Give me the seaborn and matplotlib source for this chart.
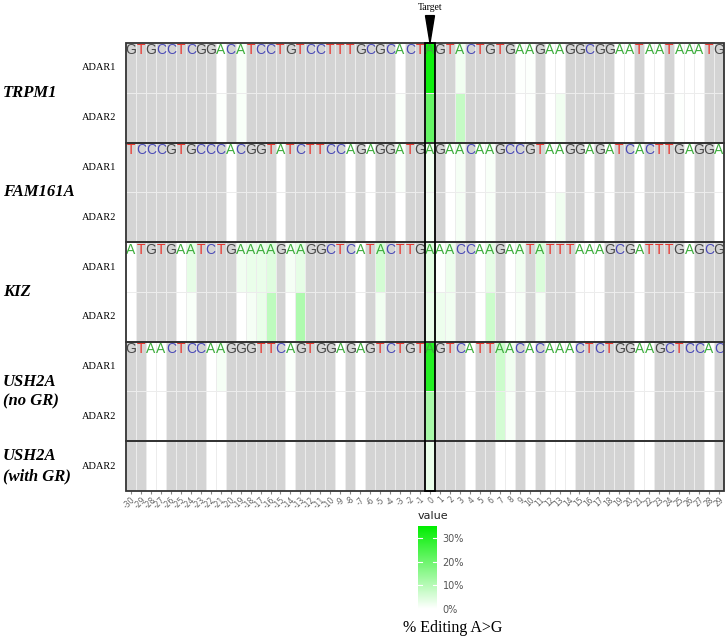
import numpy as np
import pandas as pd
import matplotlib
matplotlib.use("Agg")
import matplotlib.pyplot as plt
from matplotlib.colors import LinearSegmentedColormap, ListedColormap
from matplotlib.patches import Rectangle, Polygon
import seaborn as sns

# ---------------- data ----------------
positions = list(range(-30, 30))

seq_TRPM1 = "GTGCCTCGGACATCCTGTCCTTTGCGCACT" + "A" + "GTACTGTGAAGAAGGCGGAATAATAAATG"
seq_FAM161A = "TCCCGTGCCCACGGTATCTTCCAGAGGATG" + "A" + "GAACAAGCCGTAAGGAGATCACTTGAGGA"
seq_KIZ = "ATGTGAATCTGAAAAGAAGGCTCATACTTG" + "A" + "AACCAAGAATATTTAAAGCGATTTGAGCG"
seq_USH2A = "GTAACTCCAAGGGTTCAGTGGAGAGTCTGT" + "A" + "GTCATTAACACAAACTCTGGAAGCTCCAC"

# % editing at A sites (A sites not listed = 0)
trpm1_adar1 = {0: 33.0, 3: 2.0, -19: 1.0, 9: 0.3, 10: 0.5}
trpm1_adar2 = {0: 21.0, 3: 8.0, 13: 2.0, -21: 0.5, -19: 1.0, -3: 0.8, 10: 0.5, 25: 0.3}
fam_adar1 = {0: 2.0, 3: 1.5, 6: 1.0, -3: 0.8}
fam_adar2 = {0: 1.5, 3: 1.5, 6: 1.0, 13: 2.0}
kiz_adar1 = {-24: 3.5, -19: 2.0, -18: 3.0, -17: 3.0, -16: 4.5, -14: 1.5, -13: 3.5,
             -5: 6.0, 0: 4.0, 1: 0.5, 2: 2.5, 6: 3.5, 9: 2.0, 11: 5.0}
kiz_adar2 = {-24: 1.0, -18: 1.5, -17: 3.0, -16: 9.0, -13: 11.0, -5: 2.0, 0: 3.0,
             1: 2.5, 2: 2.0, 6: 7.0, 9: 1.0, 11: 1.5}
ush_adar1 = {0: 30.0, -21: 1.5, -14: 0.8, 7: 7.0, 8: 2.0}
ush_adar2 = {0: 12.0, 7: 6.0, 8: 1.0}
ushgr_adar2 = {0: 3.0}

row_labels = ["ADAR1", "ADAR2", "ADAR1", "ADAR2", "ADAR1", "ADAR2", "ADAR1", "ADAR2", "ADAR2"]
row_seqs = [seq_TRPM1, seq_TRPM1, seq_FAM161A, seq_FAM161A, seq_KIZ, seq_KIZ,
            seq_USH2A, seq_USH2A, seq_USH2A]
row_edits = [trpm1_adar1, trpm1_adar2, fam_adar1, fam_adar2, kiz_adar1, kiz_adar2,
             ush_adar1, ush_adar2, ushgr_adar2]

genes = ["TRPM1", "FAM161A", "KIZ", "USH2A\n(no GR)", "USH2A\n(with GR)"]
gene_rows = [(0, 2), (2, 4), (4, 6), (6, 8), (8, 9)]
gene_seqs = [seq_TRPM1, seq_FAM161A, seq_KIZ, seq_USH2A, None]

base_colors = {"A": "#3dae3d", "C": "#4a4ab8", "G": "#4a4a4a", "T": "#e8342c"}

# ---------------- build matrix ----------------
mat = np.full((len(row_labels), len(positions)), np.nan)
for r, (seq, ed) in enumerate(zip(row_seqs, row_edits)):
    for j, p in enumerate(positions):
        if seq[j] == "A":
            mat[r, j] = ed.get(p, 0.0)
df = pd.DataFrame(mat, index=range(len(row_labels)), columns=positions)

# ---------------- figure ----------------
serif = ["Liberation Serif", "DejaVu Serif"]
fig = plt.figure(figsize=(7.26, 6.39), dpi=100)
ax = fig.add_axes([126 / 726, 1 - 491 / 639, 598 / 726, 448 / 639])
cax = fig.add_axes([418 / 726, 1 - 609 / 639, 19 / 726, 83 / 639])

gray = pd.DataFrame(np.zeros_like(mat), index=df.index, columns=df.columns)
sns.heatmap(gray, ax=ax, cmap=ListedColormap(["#d4d4d4"]), cbar=False,
            linewidths=0.5, linecolor="#e4e4e4")
cmap = LinearSegmentedColormap.from_list("wg", ["#ffffff", "#00ee00"])
sns.heatmap(df, ax=ax, mask=df.isna(), cmap=cmap, vmin=0, vmax=35,
            cbar_ax=cax, linewidths=0.5, linecolor="#ececec")

# panel borders
for (r0, r1) in gene_rows:
    ax.add_patch(Rectangle((0, r0), len(positions), r1 - r0, fill=False,
                           edgecolor="#333333", lw=1.3, clip_on=False, zorder=5))
tcol = positions.index(0)
ax.add_patch(Rectangle((tcol, 0), 1, len(row_labels), fill=False,
                       edgecolor="black", lw=1.3, clip_on=False, zorder=6))
# target arrow
ax.add_patch(Polygon([(tcol + 0.5 - 0.45, -0.55), (tcol + 0.5 + 0.45, -0.55), (tcol + 0.5, 0)],
                     closed=True, color="black", clip_on=False, zorder=6))
ax.text(tcol + 0.5, -0.72, "Target", ha="center", va="center", fontsize=7,
        family=serif)

# sequence letters
for (r0, r1), seq in zip(gene_rows, gene_seqs):
    if seq is None:
        continue
    for j, b in enumerate(seq):
        ax.text(j + 0.5, r0 + 0.15, b, ha="center", va="center", fontsize=10,
                color=base_colors[b], zorder=4, family=["Liberation Sans", "DejaVu Sans"])

# axes ticks
ax.set_yticks(np.arange(len(row_labels)) + 0.5)
ax.set_yticklabels(row_labels, rotation=0, fontsize=7.5, family=serif)
ax.tick_params(axis="y", length=0, pad=7)
ax.set_xticks(np.arange(len(positions)) + 0.5)
ax.set_xticklabels([str(p) for p in positions], rotation=45, ha="right",
                   rotation_mode="anchor", fontsize=5.5, color="#666666")
ax.tick_params(axis="x", length=2, color="#888888", pad=1)
ax.set_xlabel("")
ax.set_ylabel("")

# gene labels
for (r0, r1), g in zip(gene_rows, genes):
    yc = 43 + (r0 + r1) / 2 * (448 / 9)
    fig.text(3 / 726, 1 - yc / 639, g, ha="left", va="center", fontsize=12,
             fontweight="bold", fontstyle="italic", family=serif, linespacing=1.3)

# colorbar
cb = ax.collections[-1].colorbar
cb.outline.set_visible(False)
cb.set_ticks([0, 10, 20, 30])
cb.set_ticklabels(["0%", "10%", "20%", "30%"])
cax.tick_params(labelsize=7, colors="#555555", length=0, pad=4)
for v in [10, 20, 30]:
    cax.plot([0, 0.2], [v, v], color="white", lw=0.8, transform=cax.get_yaxis_transform())
    cax.plot([0.8, 1], [v, v], color="white", lw=0.8, transform=cax.get_yaxis_transform())
cax.set_title("value", fontsize=8, loc="left", pad=5, color="#222222")
fig.text(453 / 726, 1 - 628 / 639, "% Editing A>G", ha="center", va="center",
         fontsize=11.5, family=serif)

fig.savefig("out.png", dpi=100)
